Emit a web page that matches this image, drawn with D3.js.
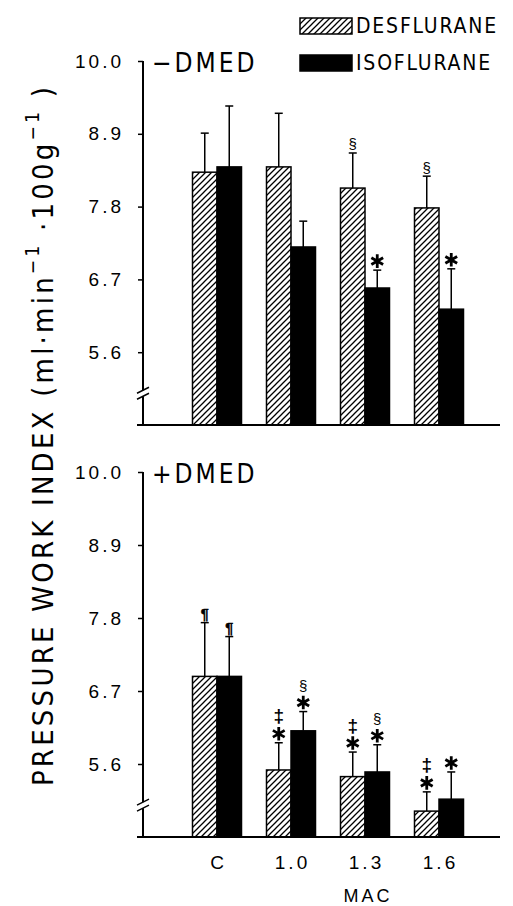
<!DOCTYPE html>
<html>
<head>
<meta charset="utf-8">
<script src="https://cdn.jsdelivr.net/npm/d3@7"></script>
<style>
  body { margin: 0; background: #fff; }
  svg { display: block; }
  text { fill: #000; }
</style>
</head>
<body>
<div id="chart"></div>
<script>
const width = 513;
const height = 906;

const categories = ["C", "1.0", "1.3", "1.6"];
const seriesNames = ["DESFLURANE", "ISOFLURANE"];
const tickValues = [5.6, 6.7, 7.8, 8.9, 10.0];

// -DMED panel: means and upper ends of error bars
const desMinus = [8.32, 8.40, 8.08, 7.78];
const desMinusUpper = [8.91, 9.21, 8.61, 8.26];
const isoMinus = [8.40, 7.19, 6.57, 6.25];
const isoMinusUpper = [9.32, 7.58, 6.84, 6.86];
const desMinusNotes = ["", "", "§", "§"];
const isoMinusNotes = ["", "", "*", "*"];

// +DMED panel
const desPlus = [6.92, 5.51, 5.41, 4.89];
const desPlusUpper = [7.73, 5.92, 5.78, 5.18];
const isoPlus = [6.92, 6.10, 5.48, 5.07];
const isoPlusUpper = [7.52, 6.39, 5.89, 5.48];
const desPlusNotes = ["¶", "*‡", "*‡", "*‡"];
const isoPlusNotes = ["¶", "*§", "*§", "*"];

const panels = [
  { title: "\u2212DMED", top: 61, bottom: 425,
    des: desMinus, desUp: desMinusUpper, iso: isoMinus, isoUp: isoMinusUpper,
    desNotes: desMinusNotes, isoNotes: isoMinusNotes },
  { title: "+DMED", top: 472, bottom: 837,
    des: desPlus, desUp: desPlusUpper, iso: isoPlus, isoUp: isoPlusUpper,
    desNotes: desPlusNotes, isoNotes: isoPlusNotes }
];

const axisX = 143;
const yMin = 4.5, yMax = 10.0;
const breakValue = 4.98;
const font = "'Liberation Sans', Arial, sans-serif";
const narrow = "'Liberation Sans Narrow', 'DejaVu Sans Condensed', sans-serif";

const svg = d3.select("#chart").append("svg")
    .attr("width", width)
    .attr("height", height);

const defs = svg.append("defs");
defs.append("pattern")
    .attr("id", "hatch")
    .attr("patternUnits", "userSpaceOnUse")
    .attr("width", 6)
    .attr("height", 6)
  .append("path")
    .attr("d", "M-1,1 l2,-2 M0,6 l6,-6 M5,7 l2,-2")
    .attr("stroke", "#000")
    .attr("stroke-width", 1.3);

const x = d3.scaleBand().domain(categories).range([180, 476]).padding(0);
const groupW = 49;
const xs = d3.scaleBand().domain(seriesNames).range([0, groupW]);
const fills = ["url(#hatch)", "#000"];

function drawNotes(g, cx, yCap, notes) {
  let pos = yCap;
  for (const s of notes) {
    const h = s === "‡" ? 9 : 8;
    const cy = pos - 1 - h;
    if (s === "*") {
      g.append("path")
          .attr("d", d3.symbol(d3.symbolAsterisk, 130)())
          .attr("transform", `translate(${cx},${cy})`)
          .attr("stroke", "#000")
          .attr("stroke-width", 2.8)
          .attr("fill", "none");
    } else {
      g.append("text")
          .attr("x", cx)
          .attr("y", cy)
          .attr("text-anchor", "middle")
          .attr("dominant-baseline", "central")
          .attr("stroke", "#000")
          .attr("stroke-width", s === "¶" ? 0.6 : 0)
          .style("font-family", font)
          .style("font-size", s === "‡" ? "19px" : "15px")
          .style("font-weight", s === "‡" ? "bold" : "normal")
          .text(s);
    }
    pos = cy - h;
  }
}

panels.forEach(p => {
  const y = d3.scaleLinear().domain([yMin, yMax]).range([p.bottom, p.top]);
  const g = svg.append("g");

  // y axis
  const axis = d3.axisLeft(y)
      .tickValues(tickValues)
      .tickFormat(d3.format(".1f"))
      .tickSize(5)
      .tickPadding(14);
  const ag = g.append("g")
      .attr("transform", `translate(${axisX},0)`)
      .call(axis);
  ag.select(".domain").remove();
  ag.selectAll(".tick line").attr("stroke", "#000").attr("stroke-width", 1.5);
  ag.selectAll(".tick text")
      .style("font-family", font)
      .style("font-size", "19px")
      .style("letter-spacing", "3px");

  g.append("line")
      .attr("x1", axisX).attr("x2", axisX)
      .attr("y1", y(yMax)).attr("y2", y(yMin))
      .attr("stroke", "#000").attr("stroke-width", 2);

  // axis break
  const yb = y(breakValue);
  g.append("rect")
      .attr("x", axisX - 2).attr("y", yb - 3)
      .attr("width", 4).attr("height", 6)
      .attr("fill", "#fff");
  [-3, 3].forEach(d => {
    g.append("line")
        .attr("x1", axisX - 6).attr("x2", axisX + 6)
        .attr("y1", yb + d + 3).attr("y2", yb + d - 3)
        .attr("stroke", "#000").attr("stroke-width", 1.5);
  });

  // baseline
  g.append("line")
      .attr("x1", axisX - 6).attr("x2", 500)
      .attr("y1", y(yMin)).attr("y2", y(yMin))
      .attr("stroke", "#000").attr("stroke-width", 2);

  // panel title
  g.append("text")
      .attr("x", axisX + 9)
      .attr("y", y(yMax) + 11)
      .style("font-family", narrow)
      .style("font-size", "26px")
      .style("letter-spacing", "3px")
      .text(p.title);

  const series = [
    { name: seriesNames[0], mean: p.des, up: p.desUp, notes: p.desNotes, fill: fills[0] },
    { name: seriesNames[1], mean: p.iso, up: p.isoUp, notes: p.isoNotes, fill: fills[1] }
  ];

  series.forEach(s => {
    categories.forEach((c, i) => {
      const bx = x(c) + (x.bandwidth() - groupW) / 2 + xs(s.name);
      const cx = bx + xs.bandwidth() / 2;
      // error bar
      g.append("line")
          .attr("x1", cx).attr("x2", cx)
          .attr("y1", y(s.mean[i])).attr("y2", y(s.up[i]))
          .attr("stroke", "#000").attr("stroke-width", 1.5);
      g.append("line")
          .attr("x1", cx - 4).attr("x2", cx + 4)
          .attr("y1", y(s.up[i])).attr("y2", y(s.up[i]))
          .attr("stroke", "#000").attr("stroke-width", 1.5);
      g.append("rect")
          .attr("x", bx)
          .attr("y", y(s.mean[i]))
          .attr("width", xs.bandwidth())
          .attr("height", y(yMin) - y(s.mean[i]))
          .attr("fill", s.fill)
          .attr("stroke", "#000")
          .attr("stroke-width", 1.5);
      drawNotes(g, cx, y(s.up[i]), Array.from(s.notes[i]));
    });
  });
});

// x labels
const xl = svg.append("g");
categories.forEach(c => {
  xl.append("text")
      .attr("x", x(c) + x.bandwidth() / 2 + 1.5)
      .attr("y", 869)
      .attr("text-anchor", "middle")
      .style("font-family", font)
      .style("font-size", "19px")
      .style("letter-spacing", "3px")
      .text(c);
});
xl.append("text")
    .attr("x", 368)
    .attr("y", 902)
    .attr("text-anchor", "middle")
    .style("font-family", font)
    .style("font-size", "18px")
    .style("letter-spacing", "3px")
    .text("MAC");

// y label
const yl = svg.append("text")
    .attr("transform", "translate(53,435) rotate(-90)")
    .attr("text-anchor", "middle")
    .style("font-family", narrow)
    .style("font-size", "29px")
    .style("letter-spacing", "3.2px");
yl.append("tspan").text("PRESSURE WORK INDEX (ml\u00b7min");
yl.append("tspan").attr("dy", -14).style("font-size", "19px").text("\u22121");
yl.append("tspan").attr("dy", 14).text(" \u00b7100g");
yl.append("tspan").attr("dy", -14).style("font-size", "19px").text("\u22121");
yl.append("tspan").attr("dy", 14).text(" )");

// legend
const legend = svg.append("g");
seriesNames.forEach((name, i) => {
  const ly = 18 + i * 37;
  legend.append("rect")
      .attr("x", 300).attr("y", ly)
      .attr("width", 52).attr("height", 16)
      .attr("fill", fills[i])
      .attr("stroke", "#000")
      .attr("stroke-width", 1.5);
  legend.append("text")
      .attr("x", 356).attr("y", ly + 15)
      .style("font-family", narrow)
      .style("font-size", "21px")
      .style("letter-spacing", "1.8px")
      .text(name);
});
</script>
</body>
</html>
